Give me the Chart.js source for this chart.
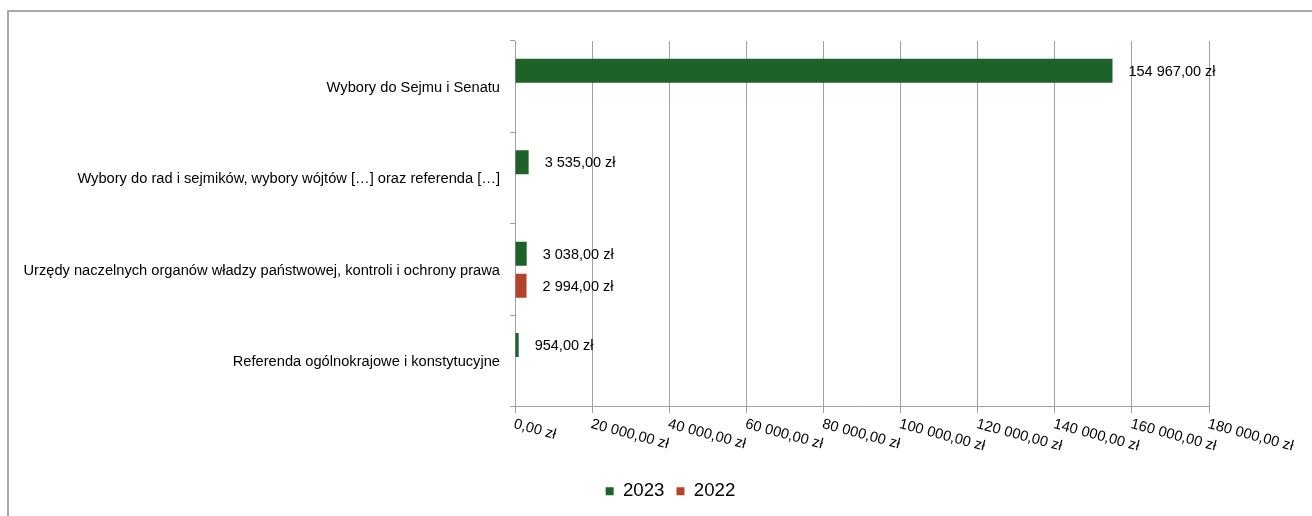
<!DOCTYPE html>
<html>
<head>
<meta charset="utf-8">
<script src="https://cdn.jsdelivr.net/npm/chart.js@4.4.1/dist/chart.umd.min.js"></script>
<style>
  html, body { margin: 0; padding: 0; background: #fff; overflow: hidden; }
  #frame { position: absolute; left: 7px; top: 10px; width: 1400px; height: 600px;
           border-top: 2px solid #a8a8a8; border-left: 2px solid #a8a8a8; }
  #wrap { position: absolute; left: 0; top: 0; width: 1312px; height: 516px; }
</style>
</head>
<body>
<div id="frame"></div>
<div id="wrap"><canvas id="chart"></canvas></div>
<script>
// chart data
const categories = [
  'Wybory do Sejmu i Senatu',
  'Wybory do rad i sejmików, wybory wójtów […] oraz referenda […]',
  'Urzędy naczelnych organów władzy państwowej, kontroli i ochrony prawa',
  'Referenda ogólnokrajowe i konstytucyjne'
];
const seriesNames = ['2023', '2022'];
const values2023 = [154967, 3535, 3038, 954];
const values2022 = [null, null, 2994, null];
const xTicks = [0, 20000, 40000, 60000, 80000, 100000, 120000, 140000, 160000, 180000];

const FONT = '"Liberation Sans", Arial, sans-serif';
const GRID = '#a0a0a0';

// "154 967,00 zł" - own formatter, pl-PL locale drops the space for 4 digit numbers
function formatZl(v) {
  const parts = Number(v).toFixed(2).split('.');
  const intPart = parts[0].replace(/\B(?=(\d{3})+(?!\d))/g, ' ');
  return intPart + ',' + parts[1] + ' zł';
}

// value labels to the right of each bar
const barLabels = {
  id: 'barLabels',
  afterDatasetsDraw(chart) {
    const { ctx } = chart;
    ctx.save();
    ctx.font = '14.5px ' + FONT;
    ctx.fillStyle = '#000';
    ctx.textAlign = 'left';
    ctx.textBaseline = 'middle';
    chart.data.datasets.forEach((ds, i) => {
      const meta = chart.getDatasetMeta(i);
      meta.data.forEach((bar, j) => {
        const v = ds.data[j];
        if (v === null || v === undefined) return;
        ctx.fillText(formatZl(v), bar.x + 16, bar.y + 1);
      });
    });
    ctx.restore();
  }
};

// x tick labels slanted down to the right, starting at the tick
const slantedTicks = {
  id: 'slantedTicks',
  afterDraw(chart) {
    const { ctx } = chart;
    const sx = chart.scales.x;
    ctx.save();
    ctx.font = '14.67px ' + FONT;
    ctx.fillStyle = '#000';
    ctx.textAlign = 'left';
    ctx.textBaseline = 'top';
    xTicks.forEach(v => {
      const px = sx.getPixelForValue(v);
      ctx.save();
      ctx.translate(px + 1, sx.top + 10);
      ctx.rotate(15 * Math.PI / 180);
      ctx.fillText(formatZl(v), 0, 0);
      ctx.restore();
    });
    ctx.restore();
  }
};

// the legend in the reference sits a bit right of the plot's centre
const legendShift = {
  id: 'legendShift',
  afterLayout(chart) {
    if (!chart.legend) return;
    chart.legend.left += 66;
    chart.legend.right += 66;
  }
};

const ctx = document.getElementById('chart').getContext('2d');
new Chart(ctx, {
  type: 'bar',
  data: {
    labels: categories,
    datasets: [
      {
        label: seriesNames[0],
        data: values2023,
        backgroundColor: '#1f6229',
        borderWidth: 0,
        categoryPercentage: 0.70,
        barPercentage: 0.75
      },
      {
        label: seriesNames[1],
        data: values2022,
        backgroundColor: '#b3442a',
        borderWidth: 0,
        categoryPercentage: 0.70,
        barPercentage: 0.75
      }
    ]
  },
  options: {
    indexAxis: 'y',
    responsive: true,
    maintainAspectRatio: false,
    animation: false,
    layout: { padding: { top: 41, right: 103, left: 0, bottom: 5.5 } },
    plugins: {
      tooltip: { enabled: false },
      legend: {
        position: 'bottom',
        labels: {
          boxWidth: 8,
          boxHeight: 8,
          padding: 12,
          color: '#000',
          font: { family: FONT, size: 18.67 }
        }
      }
    },
    scales: {
      x: {
        min: 0,
        max: 180000,
        afterBuildTicks: scale => { scale.ticks = xTicks.map(v => ({ value: v })); },
        ticks: { display: false },
        grid: { color: GRID, tickLength: 6, drawTicks: true },
        border: { color: GRID },
        afterFit: scale => { scale.height = 63; }
      },
      y: {
        ticks: {
          color: '#000',
          padding: 10,
          labelOffset: 1,
          font: { family: FONT, size: 14.67 }
        },
        grid: { drawOnChartArea: false, color: GRID, tickLength: 5, offset: true },
        border: { color: GRID },
        afterFit: scale => { scale.width = 515; }
      }
    }
  },
  plugins: [barLabels, slantedTicks, legendShift]
});
</script>
</body>
</html>
